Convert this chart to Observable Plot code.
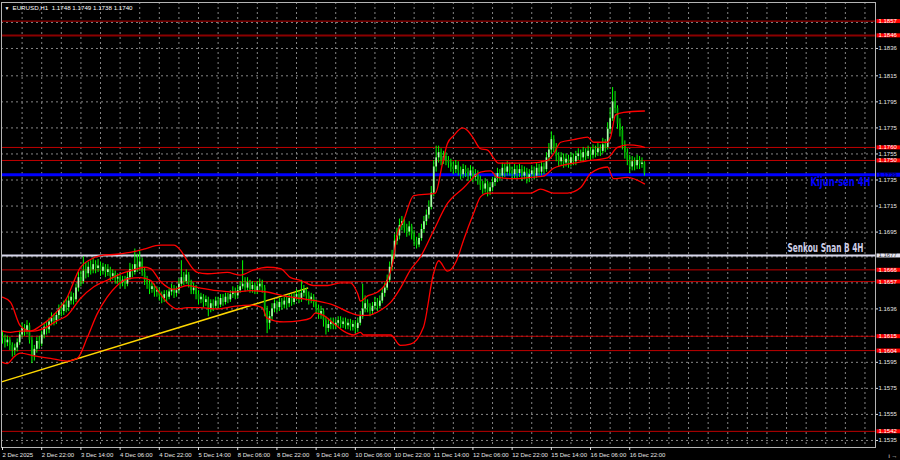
<!DOCTYPE html>
<html><head><meta charset="utf-8">
<script src="https://cdn.jsdelivr.net/npm/d3@7"></script>
<script src="https://cdn.jsdelivr.net/npm/@observablehq/plot@0.6"></script>
<style>html,body{margin:0;padding:0;background:#000;overflow:hidden}#chart{width:900px;height:460px}</style>
</head><body><div id="chart"></div>
<script>
// ---- data (hourly bars, index 0 = 2 Dec 06:00) ----
const symbol = "EURUSD,H1";
const firstOpen = 1.1615;
const closes = [
1.1613,1.1610,1.1612,1.1608,1.1604,1.1606,1.1610,1.1616,1.1621,1.1619,
1.1623,1.1612,1.1600,1.1605,1.1611,1.1609,1.1616,1.1622,1.1620,1.1626,
1.1629,1.1627,1.1631,1.1636,1.1634,1.1639,1.1637,1.1642,1.1645,1.1643,
1.1652,1.1660,1.1657,1.1665,1.1663,1.1668,1.1666,1.1670,1.1667,1.1669,
1.1665,1.1668,1.1664,1.1666,1.1661,1.1663,1.1659,1.1660,1.1656,1.1658,
1.1655,1.1660,1.1666,1.1664,1.1670,1.1668,1.1672,1.1664,1.1658,1.1655,
1.1651,1.1653,1.1649,1.1650,1.1646,1.1644,1.1647,1.1645,1.1649,1.1651,
1.1648,1.1650,1.1655,1.1660,1.1657,1.1662,1.1656,1.1650,1.1652,1.1647,
1.1643,1.1645,1.1641,1.1643,1.1636,1.1640,1.1638,1.1642,1.1639,1.1644,
1.1641,1.1645,1.1643,1.1647,1.1649,1.1646,1.1650,1.1653,1.1655,1.1652,
1.1656,1.1651,1.1654,1.1650,1.1653,1.1655,1.1652,1.1635,1.1625,1.1630,
1.1636,1.1640,1.1637,1.1641,1.1639,1.1642,1.1640,1.1644,1.1641,1.1645,
1.1647,1.1644,1.1648,1.1650,1.1646,1.1643,1.1645,1.1641,1.1636,1.1632,
1.1634,1.1627,1.1621,1.1624,1.1626,1.1623,1.1625,1.1627,1.1624,1.1626,
1.1623,1.1625,1.1622,1.1624,1.1621,1.1625,1.1630,1.1636,1.1640,1.1637,
1.1634,1.1638,1.1641,1.1638,1.1642,1.1648,1.1652,1.1658,1.1668,1.1676,
1.1688,1.1692,1.1700,1.1703,1.1698,1.1695,1.1699,1.1693,1.1688,1.1685,
1.1690,1.1697,1.1703,1.1708,1.1714,1.1725,1.1745,1.1752,1.1756,1.1750,
1.1753,1.1750,1.1748,1.1745,1.1743,1.1746,1.1742,1.1739,1.1743,1.1741,
1.1738,1.1742,1.1737,1.1739,1.1735,1.1731,1.1728,1.1732,1.1726,1.1729,
1.1733,1.1736,1.1740,1.1738,1.1744,1.1741,1.1745,1.1742,1.1739,1.1743,
1.1740,1.1743,1.1738,1.1741,1.1736,1.1739,1.1742,1.1738,1.1744,1.1741,
1.1745,1.1743,1.1752,1.1758,1.1766,1.1760,1.1753,1.1749,1.1752,1.1748,
1.1751,1.1747,1.1752,1.1749,1.1753,1.1755,1.1752,1.1756,1.1753,1.1757,
1.1754,1.1758,1.1756,1.1759,1.1757,1.1762,1.1760,1.1774,1.1782,1.1795,
1.1790,1.1778,1.1773,1.1762,1.1756,1.1750,1.1745,1.1749,1.1746,1.1750,
1.1747,1.1748,1.1740];
const highs = [
1.1619,1.1616,1.1615,1.1614,1.1610,1.1609,1.1613,1.1619,1.1625,1.1624,
1.1627,1.1625,1.1614,1.1608,1.1614,1.1615,1.1619,1.1625,1.1626,1.1629,
1.1633,1.1632,1.1634,1.1639,1.1640,1.1642,1.1643,1.1646,1.1649,1.1648,
1.1655,1.1664,1.1665,1.1676,1.1671,1.1672,1.1673,1.1675,1.1673,1.1674,
1.1672,1.1671,1.1670,1.1670,1.1668,1.1666,1.1665,1.1663,1.1662,1.1661,
1.1661,1.1664,1.1671,1.1670,1.1682,1.1678,1.1681,1.1675,1.1667,1.1661,
1.1658,1.1656,1.1655,1.1653,1.1652,1.1649,1.1650,1.1650,1.1652,1.1655,
1.1654,1.1653,1.1659,1.1673,1.1664,1.1666,1.1664,1.1658,1.1656,1.1654,
1.1650,1.1648,1.1647,1.1646,1.1645,1.1643,1.1643,1.1645,1.1645,1.1647,
1.1647,1.1648,1.1648,1.1650,1.1653,1.1652,1.1654,1.1657,1.1673,1.1660,
1.1660,1.1658,1.1657,1.1656,1.1657,1.1659,1.1658,1.1654,1.1638,1.1634,
1.1640,1.1643,1.1642,1.1644,1.1644,1.1645,1.1645,1.1647,1.1647,1.1648,
1.1651,1.1650,1.1658,1.1654,1.1652,1.1649,1.1648,1.1647,1.1643,1.1639,
1.1638,1.1636,1.1630,1.1628,1.1629,1.1629,1.1628,1.1630,1.1630,1.1629,
1.1629,1.1628,1.1628,1.1627,1.1627,1.1629,1.1634,1.1655,1.1646,1.1643,
1.1640,1.1641,1.1645,1.1644,1.1646,1.1652,1.1656,1.1662,1.1672,1.1681,
1.1693,1.1698,1.1705,1.1707,1.1706,1.1701,1.1703,1.1701,1.1696,1.1691,
1.1694,1.1701,1.1707,1.1712,1.1719,1.1730,1.1750,1.1761,1.1761,1.1759,
1.1757,1.1756,1.1753,1.1751,1.1749,1.1750,1.1749,1.1745,1.1747,1.1746,
1.1744,1.1746,1.1745,1.1743,1.1742,1.1738,1.1734,1.1736,1.1734,1.1733,
1.1737,1.1740,1.1744,1.1743,1.1748,1.1747,1.1749,1.1748,1.1745,1.1747,
1.1746,1.1747,1.1746,1.1745,1.1744,1.1743,1.1746,1.1745,1.1748,1.1747,
1.1749,1.1748,1.1756,1.1763,1.1772,1.1769,1.1763,1.1756,1.1756,1.1755,
1.1755,1.1754,1.1756,1.1755,1.1757,1.1759,1.1758,1.1760,1.1759,1.1761,
1.1760,1.1762,1.1761,1.1763,1.1762,1.1767,1.1766,1.1779,1.1790,1.1806,
1.1803,1.1792,1.1782,1.1776,1.1765,1.1759,1.1754,1.1753,1.1752,1.1754,
1.1753,1.1752,1.1749];
const lows = [
1.1609,1.1606,1.1607,1.1604,1.1599,1.1600,1.1603,1.1608,1.1614,1.1615,
1.1616,1.1609,1.1594,1.1596,1.1602,1.1605,1.1607,1.1613,1.1616,1.1617,
1.1623,1.1623,1.1624,1.1628,1.1630,1.1631,1.1633,1.1634,1.1639,1.1639,
1.1641,1.1649,1.1653,1.1655,1.1659,1.1660,1.1662,1.1663,1.1663,1.1664,
1.1661,1.1662,1.1660,1.1661,1.1657,1.1658,1.1655,1.1655,1.1652,1.1653,
1.1651,1.1653,1.1658,1.1660,1.1662,1.1664,1.1665,1.1661,1.1654,1.1651,
1.1647,1.1648,1.1645,1.1645,1.1642,1.1640,1.1641,1.1641,1.1643,1.1646,
1.1644,1.1645,1.1648,1.1653,1.1654,1.1655,1.1652,1.1647,1.1647,1.1643,
1.1639,1.1640,1.1637,1.1638,1.1630,1.1633,1.1634,1.1636,1.1636,1.1637,
1.1638,1.1639,1.1640,1.1641,1.1644,1.1643,1.1644,1.1648,1.1651,1.1649,
1.1650,1.1648,1.1648,1.1647,1.1647,1.1650,1.1648,1.1630,1.1617,1.1620,
1.1627,1.1633,1.1633,1.1634,1.1635,1.1636,1.1636,1.1637,1.1638,1.1639,
1.1642,1.1640,1.1641,1.1645,1.1642,1.1639,1.1640,1.1637,1.1632,1.1628,
1.1628,1.1622,1.1616,1.1618,1.1620,1.1620,1.1620,1.1622,1.1621,1.1621,
1.1620,1.1620,1.1619,1.1619,1.1617,1.1618,1.1623,1.1628,1.1633,1.1633,
1.1630,1.1631,1.1635,1.1634,1.1636,1.1640,1.1645,1.1650,1.1656,1.1665,
1.1674,1.1685,1.1689,1.1696,1.1694,1.1691,1.1692,1.1689,1.1684,1.1682,
1.1683,1.1688,1.1694,1.1700,1.1705,1.1712,1.1722,1.1741,1.1748,1.1746,
1.1747,1.1746,1.1744,1.1741,1.1739,1.1740,1.1738,1.1735,1.1736,1.1737,
1.1734,1.1735,1.1733,1.1734,1.1731,1.1727,1.1724,1.1725,1.1722,1.1723,
1.1726,1.1730,1.1733,1.1734,1.1736,1.1737,1.1738,1.1738,1.1735,1.1736,
1.1736,1.1737,1.1734,1.1735,1.1732,1.1733,1.1736,1.1735,1.1736,1.1738,
1.1738,1.1739,1.1741,1.1749,1.1755,1.1756,1.1749,1.1745,1.1746,1.1744,
1.1745,1.1744,1.1745,1.1746,1.1746,1.1750,1.1749,1.1749,1.1750,1.1751,
1.1750,1.1751,1.1752,1.1753,1.1753,1.1755,1.1756,1.1758,1.1771,1.1780,
1.1786,1.1774,1.1768,1.1758,1.1751,1.1746,1.1740,1.1742,1.1742,1.1743,
1.1743,1.1744,1.1738];

// Bollinger-style bands (bar index, price)
const bbUpperIdx = [0,3.3,7.3,11.4,15.5,19.6,26.4,31.8,35.9,40,46.8,53.6,57.7,64.5,69.9,72.7,75.4,79.5,83.6,91.7,97.1,102.6,108,113.5,117.6,121.6,126.9,132.7,138,142,144.9,146.1,149,153.1,157.1,159.2,161.2,163.7,167.8,176.7,179.6,181.6,184.1,187.8,189.8,192.2,195.1,198,200.4,202.4,204.5,215.5,222.4,224.9,227.8,233.1,238.8,241.2,246.9,248.2,250.2,253.5,262];
const bbUpperVal = [1.1645,1.1641,1.1623,1.1619,1.1623,1.1629,1.1645,1.1668,1.1674,1.1677,1.1678,1.1680,1.1682,1.1685,1.1685,1.1681,1.1673,1.1664,1.1663,1.1664,1.1662,1.1666,1.1668,1.1667,1.1660,1.1658,1.1654,1.1654,1.1656,1.1656,1.1648,1.1642,1.1646,1.1649,1.1658,1.1671,1.1694,1.1704,1.1723,1.1725,1.1748,1.1763,1.1769,1.1775,1.1773,1.1767,1.1759,1.1758,1.1752,1.1748,1.1748,1.1748,1.1750,1.1755,1.1764,1.1766,1.1768,1.1764,1.1764,1.1768,1.1785,1.1787,1.1788];
const bbMiddleIdx = [0,3.3,7.3,12.8,16.9,22.3,26.4,31.8,37.3,42.7,48.2,53.6,57.7,60.4,64.5,69.9,75.4,80.8,87.6,94.4,101.2,108,114.8,121.6,128.6,135.1,142,146.1,149,154.3,158.4,162.4,166.5,170.6,175.9,181.6,188.2,195.1,199.2,202,208.6,215.5,220.8,224.9,233.1,240,246.9,251,255.1,260.4,262];
const bbMiddleVal = [1.1619,1.1618,1.1619,1.1619,1.1621,1.1627,1.1631,1.1644,1.1653,1.1658,1.1663,1.1666,1.1668,1.1667,1.1657,1.1651,1.1654,1.1652,1.1650,1.1649,1.1650,1.1649,1.1646,1.1644,1.1642,1.1639,1.1633,1.1631,1.1631,1.1635,1.1641,1.1652,1.1666,1.1676,1.1696,1.1717,1.1729,1.1741,1.1742,1.1737,1.1736,1.1737,1.1738,1.1744,1.1748,1.1750,1.1752,1.1760,1.1762,1.1761,1.1760];
const bbLowerIdx = [0,1.9,4.6,7.3,12.8,19.6,26.4,30.5,34.6,38.6,42.7,46.8,50.9,56.3,60.4,63.1,67.2,71.3,75.4,80.8,87.6,94.4,101.2,106,108,114.8,121.6,125.7,127.8,131,135.1,139.2,143.3,146.1,147.3,153.1,158.4,162.4,166.5,171.8,175.9,178,181.6,185.3,188.2,192.2,195.1,198,202,215.5,219.6,224.9,230.6,235.9,240,246.9,249.4,255.1,262];
const bbLowerVal = [1.1595,1.1594,1.1599,1.1602,1.1600,1.1598,1.1596,1.1598,1.1614,1.1632,1.1645,1.1654,1.1659,1.1660,1.1658,1.1651,1.1641,1.1636,1.1637,1.1637,1.1636,1.1638,1.1639,1.1637,1.1629,1.1626,1.1627,1.1629,1.1633,1.1631,1.1625,1.1619,1.1616,1.1618,1.1616,1.1616,1.1616,1.1608,1.1609,1.1622,1.1663,1.1673,1.1665,1.1673,1.1689,1.1709,1.1722,1.1725,1.1725,1.1725,1.1728,1.1725,1.1725,1.1729,1.1740,1.1745,1.1736,1.1737,1.1732];

// trend line (bar index, price)
const trendIdx = [-0.4, 124.5];
const trendVal = [1.1580, 1.1652];

// horizontal levels
const redLevels = [1.1857, 1.1760, 1.1750, 1.1666, 1.1657, 1.1615, 1.1604, 1.1542];
const darkRedLevels = [1.1846];
const kijunLevel = 1.1739;
const senkouLevel = 1.1677;
const kijunText = "Kijun-sen 4H";
const senkouText = "Senkou Snan B 4H";

// axes: grid levels, and the grid levels whose labels are visible (others sit under price tags)
const yTicks = [1.1535,1.1555,1.1575,1.1595,1.1615,1.1636,1.1656,1.1676,1.1695,1.1715,1.1735,1.1755,1.1775,1.1795,1.1815,1.1836,1.1856];
const yTickLabels = [1.1535,1.1555,1.1575,1.1595,1.1636,1.1695,1.1715,1.1735,1.1755,1.1775,1.1795,1.1815,1.1836];
const xTickIndex = [0,16,32,48,64,80,96,112,128,144,160,176,192,208,224,240,256];
const xTickLabels = ["2 Dec 2025","2 Dec 22:00","3 Dec 14:00","4 Dec 06:00","4 Dec 22:00","5 Dec 14:00","8 Dec 06:00","8 Dec 22:00","9 Dec 14:00","10 Dec 06:00","10 Dec 22:00","11 Dec 14:00","12 Dec 06:00","12 Dec 22:00","15 Dec 14:00","16 Dec 06:00","16 Dec 22:00"];

// ---- build ----
const candles = closes.map((c, i) => ({i, o: i === 0 ? firstOpen : closes[i - 1], h: highs[i], l: lows[i], c}));
const zip = (a, b) => a.map((v, k) => ({i: v, p: b[k]}));
const last = candles[candles.length - 1];
const title = `${symbol}  ${last.o.toFixed(4)} ${last.h.toFixed(4)} ${last.l.toFixed(4)} ${last.c.toFixed(4)}`;
const boldFont = "'DejaVu Sans', 'Liberation Sans', sans-serif";

const chart = Plot.plot({
  width: 900, height: 460,
  marginLeft: 1, marginRight: 25, marginTop: 2, marginBottom: 13,
  style: {background: "#000", color: "#e6e6e6", fontFamily: "'Liberation Sans', Arial, sans-serif", fontSize: "6px", overflow: "visible"},
  x: {type: "linear", domain: [-0.41, 356.3], axis: null},
  y: {domain: [1.15296, 1.18713], axis: null},
  marks: [
    Plot.gridY(yTicks, {stroke: "#858585", strokeOpacity: 1, strokeDasharray: "2,3"}),
    Plot.gridX(d3.range(8, 357, 8), {stroke: "#858585", strokeOpacity: 1, strokeDasharray: "2,3"}),
    Plot.ruleY(redLevels, {stroke: "#c00000", strokeWidth: 1}),
    Plot.ruleY(darkRedLevels, {stroke: "#8b0000", strokeWidth: 2}),
    Plot.ruleY([senkouLevel], {stroke: "#d8d8ec", strokeWidth: 2}),
    Plot.ruleY([kijunLevel], {stroke: "#0000ff", strokeWidth: 3}),
    Plot.line(zip(trendIdx, trendVal), {x: "i", y: "p", stroke: "#ffd700", strokeWidth: 1.5, clip: true}),
    Plot.ruleX(candles, {x: "i", y1: "l", y2: "h", stroke: "#00ff00", strokeWidth: 1}),
    Plot.ruleX(candles, {filter: d => d.c >= d.o, x: "i", y1: "o", y2: "c", stroke: "#a8ffa8", strokeWidth: 1.7}),
    Plot.ruleX(candles, {filter: d => d.c < d.o, x: "i", y1: "o", y2: "c", stroke: "#00b400", strokeWidth: 1.7}),
    Plot.line(zip(bbUpperIdx, bbUpperVal), {x: "i", y: "p", stroke: "#ff0000", strokeWidth: 1.3, curve: "monotone-x"}),
    Plot.line(zip(bbMiddleIdx, bbMiddleVal), {x: "i", y: "p", stroke: "#ff0000", strokeWidth: 1.3, curve: "monotone-x"}),
    Plot.line(zip(bbLowerIdx, bbLowerVal), {x: "i", y: "p", stroke: "#ff0000", strokeWidth: 1.3, curve: "monotone-x"}),
    Plot.frame({stroke: "#b4b4b4"}),
    Plot.axisY(yTickLabels, {anchor: "right", tickSize: 2, tickPadding: 1, tickFormat: d => d.toFixed(4), fontSize: 6, color: "#e6e6e6"}),
    Plot.axisX(xTickIndex, {anchor: "bottom", tickSize: 3, tickPadding: 2, tickFormat: d => xTickLabels[xTickIndex.indexOf(d)], textAnchor: "start", fontSize: 6, color: "#e6e6e6"}),
    Plot.text([title], {frameAnchor: "top-left", dx: 11, dy: 3, lineAnchor: "top", textAnchor: "start", text: d => d, fill: "#ffffff", fontSize: 6.2}),
    Plot.text(["▼"], {frameAnchor: "top-left", dx: 3, dy: 4, lineAnchor: "top", textAnchor: "start", text: d => d, fill: "#ffffff", fontSize: 5}),
    Plot.text([kijunLevel], {y: d => d, frameAnchor: "right", dx: -5, dy: 3, lineAnchor: "top", textAnchor: "end", text: () => kijunText, fill: "#0000ff", fontWeight: "bold", fontSize: 12, fontFamily: boldFont, ariaDescription: "label-kijun"}),
    Plot.text([senkouLevel], {y: d => d, frameAnchor: "right", dx: -12, dy: -4, lineAnchor: "bottom", textAnchor: "end", text: () => senkouText, fill: "#d0d0e8", fontWeight: "bold", fontSize: 12, fontFamily: boldFont, ariaDescription: "label-senkou"}),
    Plot.text(redLevels.concat(darkRedLevels), {y: d => d, frameAnchor: "right", dx: 3, textAnchor: "start", text: d => d.toFixed(4), fill: "#ffffff", fontSize: 6, ariaDescription: "tag-red"}),
    Plot.text([kijunLevel], {y: d => d, frameAnchor: "right", dx: 3, textAnchor: "start", text: d => d.toFixed(4), fill: "#000033", fontSize: 6, ariaDescription: "tag-blue"}),
    Plot.text([senkouLevel], {y: d => d, frameAnchor: "right", dx: 3, textAnchor: "start", text: d => d.toFixed(4), fill: "#333333", fontSize: 6, ariaDescription: "tag-white"})
  ]
});
document.getElementById("chart").append(chart);

// squeeze the bold level captions to the narrow width of the original
const squeeze = {"label-kijun": 60, "label-senkou": 76};
for (const [name, len] of Object.entries(squeeze)) {
  d3.select(chart).selectAll(`g[aria-description="${name}"] text`)
    .attr("textLength", len).attr("lengthAdjust", "spacingAndGlyphs");
}

// coloured price tags behind the level values
const tagColors = {"tag-red": "#ff0000", "tag-blue": "#0000ff", "tag-white": "#e4e4f0"};
for (const [name, bg] of Object.entries(tagColors)) {
  d3.select(chart).selectAll(`g[aria-description="${name}"] text`).each(function() {
    const b = this.getBBox();
    const r = document.createElementNS("http://www.w3.org/2000/svg", "rect");
    r.setAttribute("x", b.x - 2);
    r.setAttribute("y", b.y + 1);
    r.setAttribute("width", b.width + 5);
    r.setAttribute("height", b.height - 2);
    r.setAttribute("fill", bg);
    const t = this.getAttribute("transform");
    if (t) r.setAttribute("transform", t);
    this.parentNode.insertBefore(r, this);
  });
}
</script>
</body></html>
